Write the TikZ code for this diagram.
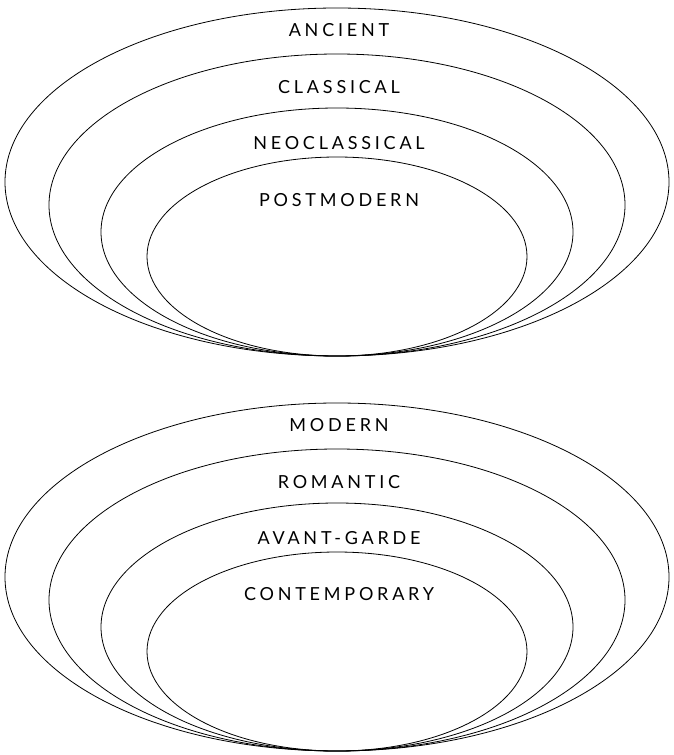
\documentclass[tikz,border=0pt]{standalone}
\usepackage{fontspec}
\setmainfont[LetterSpace=21]{Lato}

\begin{document}
\begin{tikzpicture}[x=1pt,y=-1pt,
		ring/.style={line width=0.8pt},
		era/.style={font=\fontsize{18}{20}\selectfont}]
		\useasboundingbox (0,0) rectangle (673,755);
		% upper set, all touching at (337,356)
		\draw[ring] (337,182) ellipse [x radius=332, y radius=174];
		\draw[ring] (337,205) ellipse [x radius=288, y radius=151];
		\draw[ring] (337,232) ellipse [x radius=236, y radius=124];
		\draw[ring] (337,256.5) ellipse [x radius=190, y radius=99.5];
		\node[era] (ancient) at (339,30) {ANCIENT};
		\node[era] (classical) at (339,87) {CLASSICAL};
		\node[era] (neoclassical) at (339,143.5) {NEOCLASSICAL};
		\node[era] (postmodern) at (339,200) {POSTMODERN};
		% lower set, all touching at (337,751)
		\draw[ring] (337,577) ellipse [x radius=332, y radius=174];
		\draw[ring] (337,600) ellipse [x radius=288, y radius=151];
		\draw[ring] (337,627) ellipse [x radius=236, y radius=124];
		\draw[ring] (337,651.5) ellipse [x radius=190, y radius=99.5];
		\node[era] (modern) at (339,425) {MODERN};
		\node[era] (romantic) at (339,482) {ROMANTIC};
		\node[era] (avantgarde) at (339,538) {AVANT-GARDE};
		\node[era] (contemporary) at (339,594) {CONTEMPORARY};
	\end{tikzpicture}
\end{document}
